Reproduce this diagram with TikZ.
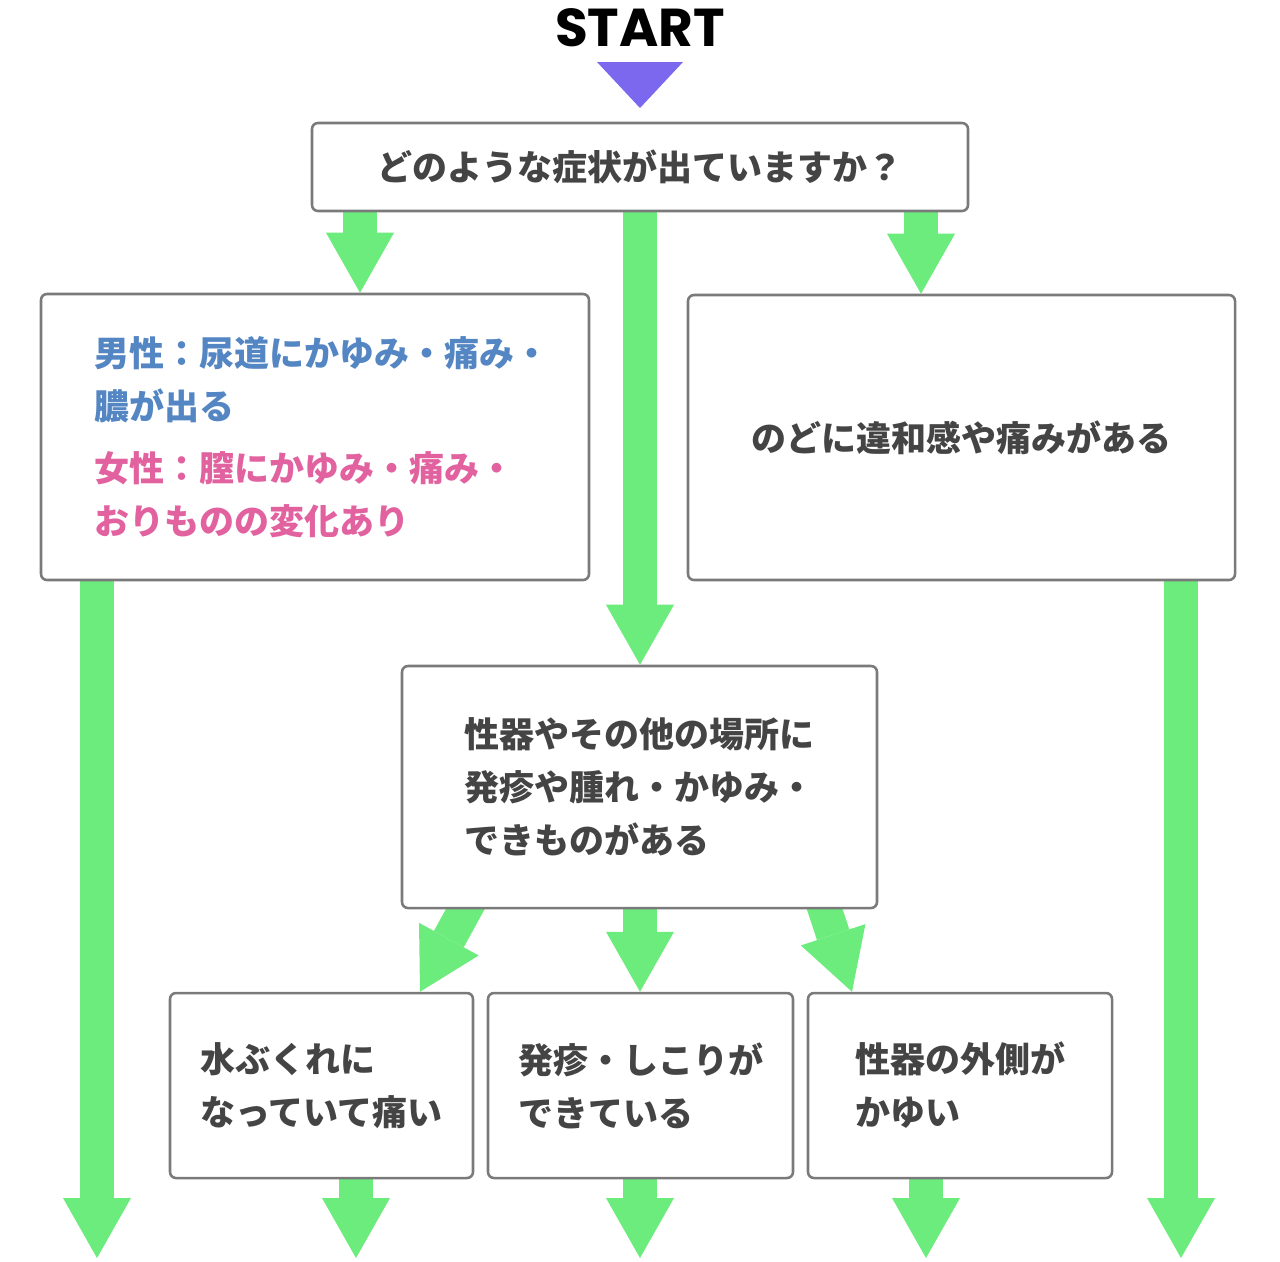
\documentclass[tikz,border=0pt]{standalone}
\usepackage{fontspec}
\usetikzlibrary{arrows.meta,backgrounds}
\newfontfamily\jpfont{Noto Sans CJK JP}
\newfontfamily\startfont{Poppins}
\definecolor{boxgray}{RGB}{122,122,122}
\definecolor{txtgray}{RGB}{68,68,68}
\definecolor{flowgreen}{RGB}{108,236,124}
\definecolor{startpurple}{RGB}{123,104,238}
\definecolor{maleblue}{RGB}{84,134,196}
\definecolor{femalepink}{RGB}{226,98,160}

\tikzset{every picture/.style={line width=0.75pt}}
\tikzset{
  qbox/.style={draw=boxgray, line width=1.9pt, rounded corners=4.5pt, fill=white, align=left, text=txtgray, inner sep=0pt,
    font=\jpfont\bfseries\fontsize{26.25pt}{39.75pt}\selectfont},
  qtext/.style={align=left, inner sep=0pt, font=\jpfont\bfseries\fontsize{26.25pt}{39.75pt}\selectfont},
  flow/.style={draw=flowgreen, line width=25.5pt, -{Triangle[width=51pt,length=45pt,line width=0pt]}},
}

\begin{document}
\begin{tikzpicture}[x=0.75pt,y=0.75pt,yscale=-1,xscale=1]
\useasboundingbox (0,0) rectangle (1280,1261);

% Text Node
\node (start) at (640,27.5) {\startfont\bfseries\fontsize{40pt}{48pt}\selectfont START};
%Shape: Triangle
\fill[startpurple] (597,62) -- (683,62) -- (640,108) -- cycle;

%Shape: Rectangle
\node[qbox, minimum width=492pt, minimum height=66pt] (q) at (640,167) {どのような症状が出ていますか？};
%Shape: Rectangle
\node[qbox, minimum width=411pt, minimum height=214.5pt] (l) at (315,437) {};
% Text Node
\node[qtext] (ltxt) at (322,437)
  {{\color{maleblue}男性：尿道にかゆみ・痛み・}\\{\color{maleblue}膿が出る}\\[6.75pt]{\color{femalepink}女性：膣にかゆみ・痛み・}\\{\color{femalepink}おりものの変化あり}};
%Shape: Rectangle
\node[qbox, minimum width=410.25pt, minimum height=213.75pt] (r) at (961.5,437.5) {のどに違和感や痛みがある};
%Shape: Rectangle
\node[qbox, minimum width=356.25pt, minimum height=181.5pt] (m) at (639.5,787) {性器やその他の場所に\\発疹や腫れ・かゆみ・\\できものがある};
%Shape: Rectangle
\node[qbox, minimum width=227.25pt, minimum height=138.75pt] (b1) at (321.5,1085.5) {水ぶくれに\\なっていて痛い};
%Shape: Rectangle
\node[qbox, minimum width=228.75pt, minimum height=138.75pt] (b2) at (640.5,1085.5) {発疹・しこりが\\できている};
%Shape: Rectangle
\node[qbox, minimum width=228pt, minimum height=138.75pt] (b3) at (960,1085.5) {性器の外側が\\かゆい};

%free ends at the bottom
\coordinate (e1) at (97,1258);
\coordinate (e2) at (356,1258);
\coordinate (e3) at (640,1258);
\coordinate (e4) at (926,1258);
\coordinate (e5) at (1181,1258);
\coordinate (t1) at (473,895);
\coordinate (t3) at (820,895);

\begin{scope}[on background layer]
\fill[white] (0,0) rectangle (1280,1261);
%Straight Lines
\draw[flow] (360,0 |- q.south) -- (360,0 |- l.north);
\draw[flow] (640,0 |- q.south) -- (640,0 |- m.north);
\draw[flow] (921,0 |- q.south) -- (921,0 |- r.north);
\draw[flow] (97,0 |- l.south) -- (e1);
\draw[flow] (1181,0 |- r.south) -- (e5);
%Straight Lines
\draw[flow] (t1) -- (420,0 |- b1.north);
\draw[flow] (640,0 |- m.south) -- (640,0 |- b2.north);
\draw[flow] (t3) -- (852,0 |- b3.north);
%Straight Lines
\draw[flow] (356,0 |- b1.south) -- (e2);
\draw[flow] (640,0 |- b2.south) -- (e3);
\draw[flow] (926,0 |- b3.south) -- (e4);
\end{scope}

\end{tikzpicture}
\end{document}
